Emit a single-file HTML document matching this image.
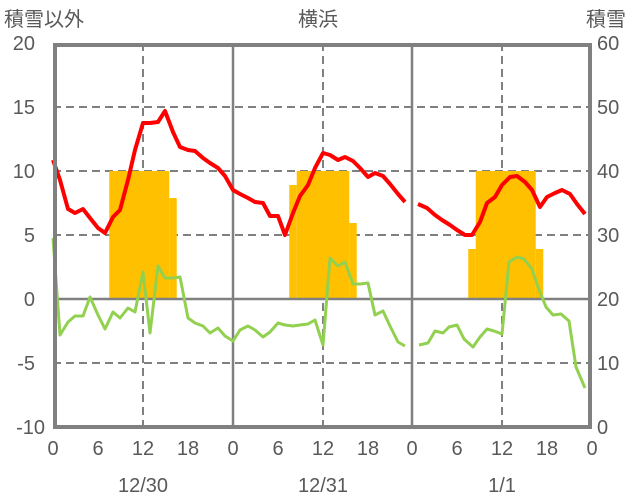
<!DOCTYPE html><html><head><meta charset="utf-8"><style>body{margin:0;background:#fff}svg{display:block}text{font-family:"Liberation Sans","Noto Sans CJK JP",sans-serif;fill:#595959;font-size:20px}</style></head><body>
<svg width="636" height="501" viewBox="0 0 636 501">
<g stroke="#808080" stroke-width="2" stroke-dasharray="8,5" fill="none">
<line x1="53" y1="107" x2="590" y2="107"/><line x1="53" y1="171" x2="590" y2="171"/><line x1="53" y1="235" x2="590" y2="235"/><line x1="53" y1="363" x2="590" y2="363"/>
<line x1="143" y1="43" x2="143" y2="427"/><line x1="323" y1="43" x2="323" y2="427"/><line x1="502" y1="43" x2="502" y2="427"/>
</g>
<g fill="#ffc000">
<rect x="109.25" y="171" width="60" height="128"/><rect x="169.25" y="198" width="7.5" height="101"/>
<rect x="289.25" y="185" width="7.5" height="114"/><rect x="296.75" y="171" width="52.5" height="128"/><rect x="349.25" y="223" width="7.5" height="76"/>
<rect x="468.25" y="249" width="7.5" height="50"/><rect x="475.75" y="171" width="60" height="128"/><rect x="535.75" y="249" width="7.5" height="50"/>
</g>
<g stroke="#808080" stroke-width="2.5"><line x1="53" y1="299" x2="590" y2="299"/><line x1="233" y1="43" x2="233" y2="427"/><line x1="412" y1="43" x2="412" y2="427"/></g>
<g fill="none" stroke-linejoin="round">
<polyline stroke="#92d050" stroke-width="3" points="53,238 60,335 68,322 75,316 83,316 90,297 98,315 105,329 113,312 120,318 128,308 135,312 143,272 150,333 158,266 165,278 173,278 180,277 188,318 195,323 203,326 210,333 218,328 225,336 233,341 240,330 248,326 255,330 263,337 270,332 278,323 285,325 293,326 300,325 308,324 315,320 323,345 330,258 338,266 345,262 353,284 360,284 368,283 375,315 383,311 390,326 398,342 405,346"/>
<polyline stroke="#92d050" stroke-width="3" points="419,345 428,343 435,331 443,333 449,327 457,325 464,339 473,347 480,337 487,329 494,331 502,334 509,262 517,257 524,259 532,269 538,287 546,307 553,315 561,314 569,321 576,367 585,388"/>
<polyline stroke="#ff0000" stroke-width="4" points="53,160 60,180 68,209 75,213 83,209 90,218 98,228 105,233 113,217 120,210 128,180 135,150 143,123 150,123 158,122 165,111 173,132 180,147 188,150 195,151 203,158 210,163 218,168 225,176 233,190 240,194 248,198 255,202 263,203 270,216 278,216 285,235 293,213 300,196 308,185 315,168 323,153 330,155 338,160 345,157 353,161 360,168 368,177 375,173 383,176 390,184 398,194 405,202"/>
<polyline stroke="#ff0000" stroke-width="4" points="418,204 427,208 435,215 442,220 450,225 457,230 465,235 472,235 480,222 487,203 495,197 502,185 510,177 517,176 525,182 532,190 540,207 547,197 555,193 562,190 570,194 577,204 585,214"/>
</g>
<g stroke="#7030a0" stroke-width="3"><line x1="55" y1="427" x2="407" y2="427"/><line x1="418" y1="427" x2="587" y2="427"/></g>
<rect x="55" y="45" width="535" height="382" fill="none" stroke="#808080" stroke-width="4"/>
<g text-anchor="end"><text x="35" y="50">20</text><text x="35" y="114">15</text><text x="35" y="178">10</text><text x="35" y="242">5</text><text x="35" y="306">0</text><text x="35" y="370">-5</text><text x="45" y="434">-10</text></g>
<g text-anchor="start"><text x="597" y="50">60</text><text x="597" y="114">50</text><text x="597" y="178">40</text><text x="597" y="242">30</text><text x="597" y="306">20</text><text x="597" y="370">10</text><text x="597" y="434">0</text></g>
<g text-anchor="middle"><text x="53" y="455">0</text><text x="98" y="455">6</text><text x="143" y="455">12</text><text x="188" y="455">18</text><text x="233" y="455">0</text><text x="278" y="455">6</text><text x="323" y="455">12</text><text x="368" y="455">18</text><text x="412" y="455">0</text><text x="457" y="455">6</text><text x="502" y="455">12</text><text x="547" y="455">18</text><text x="592" y="455">0</text>
<text x="143" y="492">12/30</text><text x="323" y="492">12/31</text><text x="502" y="492">1/1</text>
<text x="318" y="26">横浜</text></g>
<text x="4" y="26">積雪以外</text><text x="586" y="26">積雪</text>
</svg></body></html>
